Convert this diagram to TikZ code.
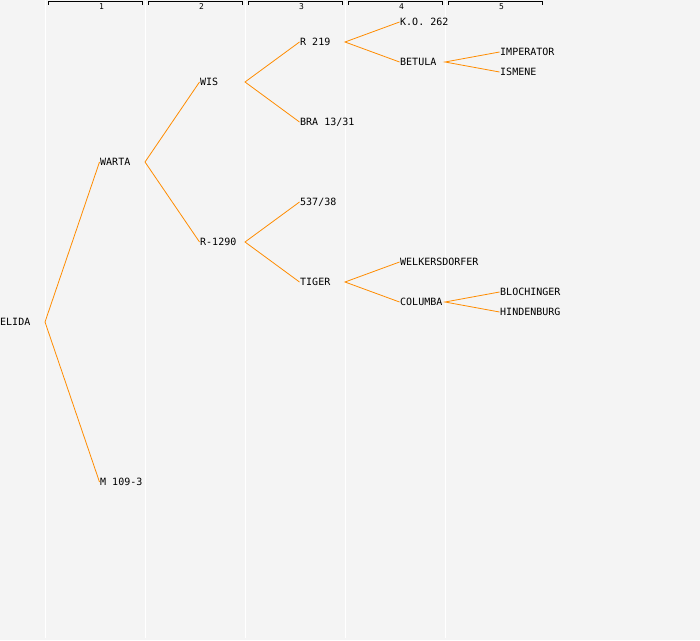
\documentclass[tikz,border=0pt]{standalone}
\usepackage{fontspec}
\setmonofont{DejaVu Sans Mono}
\usepackage{tikz}
\usetikzlibrary{positioning}
\usepackage{xcolor}
\definecolor{pgbg}{RGB}{244,244,244}
\definecolor{pgorange}{RGB}{255,140,0}
\tikzstyle{plant} = [anchor=west, inner sep=0.5pt, text height=7.3pt, text depth=0pt, font=\ttfamily\fontsize{10}{12}\selectfont]
\tikzstyle{gen} = [inner sep=0pt, font=\ttfamily\fontsize{8}{9}\selectfont]
\tikzstyle{link} = [line width=0.8pt, color=pgorange]
\tikzstyle{sep} = [line width=1pt, color=white]
\tikzstyle{bracket} = [line width=0.8pt, color=black]

\begin{document}
\begin{tikzpicture}[x=1pt, y=-1pt]
\useasboundingbox (0,0) rectangle (700,640);
\fill[pgbg] (0,0) rectangle (700,640);

% Generation columns
\coordinate (sep1) at (45,0);
\coordinate (sep2) at (145,0);
\coordinate (sep3) at (245,0);
\coordinate (sep4) at (345,0);
\coordinate (sep5) at (445,0);
\draw[sep] (sep1) -- ++(0,638);
\draw[sep] (sep2) -- ++(0,638);
\draw[sep] (sep3) -- ++(0,638);
\draw[sep] (sep4) -- ++(0,638);
\draw[sep] (sep5) -- ++(0,638);

\draw[bracket] (48,4.5) -- (48,1.5) -- (142,1.5) -- (142,4.5);
\draw[bracket] (148,4.5) -- (148,1.5) -- (242,1.5) -- (242,4.5);
\draw[bracket] (248,4.5) -- (248,1.5) -- (342,1.5) -- (342,4.5);
\draw[bracket] (348,4.5) -- (348,1.5) -- (442,1.5) -- (442,4.5);
\draw[bracket] (448,4.5) -- (448,1.5) -- (542,1.5) -- (542,4.5);
\node[gen] (gen1) at (101.5,6.5) {1};
\node[gen] (gen2) at (201.5,6.5) {2};
\node[gen] (gen3) at (301.5,6.5) {3};
\node[gen] (gen4) at (401.5,6.5) {4};
\node[gen] (gen5) at (501.5,6.5) {5};

% Plants
\node[plant] (elida) at (-0.5,322) {ELIDA};
\node[plant] (warta) at (99.5,162) {WARTA};
\node[plant] (m109) at (99.5,482) {M 109-3};
\node[plant] (wis) at (199.5,82) {WIS};
\node[plant] (r1290) at (199.5,242) {R-1290};
\node[plant] (r219) at (299.5,42) {R 219};
\node[plant] (bra) at (299.5,122) {BRA 13/31};
\node[plant] (s537) at (299.5,202) {537/38};
\node[plant] (tiger) at (299.5,282) {TIGER};
\node[plant] (ko262) at (399.5,22) {K.O. 262};
\node[plant] (betula) at (399.5,62) {BETULA};
\node[plant] (welkers) at (399.5,262) {WELKERSDORFER};
\node[plant] (columba) at (399.5,302) {COLUMBA};
\node[plant] (imperator) at (499.5,52) {IMPERATOR};
\node[plant] (ismene) at (499.5,72) {ISMENE};
\node[plant] (blochinger) at (499.5,292) {BLOCHINGER};
\node[plant] (hindenburg) at (499.5,312) {HINDENBURG};

% Parent links
\draw[link] (warta.west) -- (elida -| sep1) -- (m109.west);
\draw[link] (wis.west) -- (warta -| sep2) -- (r1290.west);
\draw[link] (r219.west) -- (wis -| sep3) -- (bra.west);
\draw[link] (s537.west) -- (r1290 -| sep3) -- (tiger.west);
\draw[link] (ko262.west) -- (r219 -| sep4) -- (betula.west);
\draw[link] (welkers.west) -- (tiger -| sep4) -- (columba.west);
\draw[link] (imperator.west) -- (betula -| sep5) -- (ismene.west);
\draw[link] (blochinger.west) -- (columba -| sep5) -- (hindenburg.west);
\end{tikzpicture}
\end{document}
